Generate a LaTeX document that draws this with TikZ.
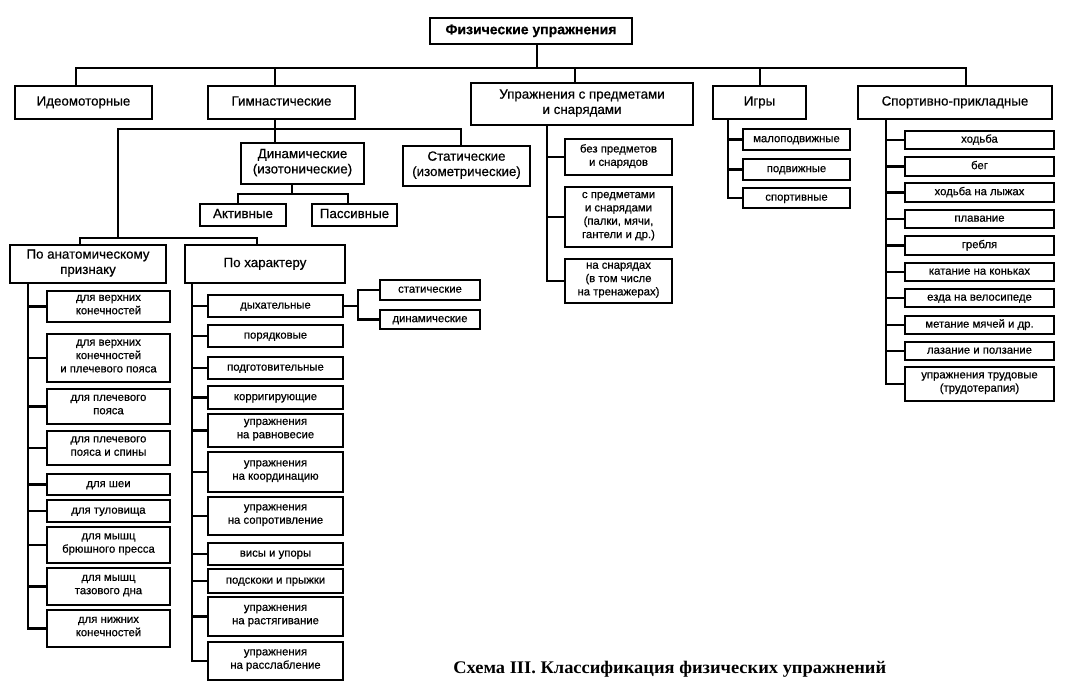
\documentclass[tikz,border=0pt]{standalone}
\usepackage{fontspec}
\setmainfont{Liberation Sans}[FakeBold=0.6]
\newfontfamily\capfont{Liberation Serif}[FakeStretch=1.04]
\tikzset{
  box/.style={draw, line width=2pt, inner sep=0pt, align=center, font=\fontsize{10}{11.5}\selectfont,
    execute at begin node=\strut, execute at end node=\strut},
  sm/.style={box, font=\fontsize{8.5}{10}\selectfont},
  ttl/.style={box, font=\bfseries\fontsize{10.5}{12}\selectfont},
  ln/.style={line width=2pt, line join=miter},
}
\newcommand\bx[7]{\node[#7, minimum width={(#4-#2)*0.75pt}, minimum height={(#5-#3)*0.75pt}] (#1) at ({(#2+#4)/2},{(#3+#5)/2}) {#6};}
\begin{document}
\begin{tikzpicture}[x=0.75pt,y=-0.75pt]
\useasboundingbox (0,0) rectangle (1086,697);
% level 0 and 1
\bx{title}{430}{18}{632}{44}{Физические упражнения}{ttl}
\bx{ideo}{15}{86}{152}{119}{Идеомоторные}{box}
\bx{gym}{208}{86}{355}{119}{Гимнастические}{box}
\bx{upr}{471}{83}{693}{125}{Упражнения с предметами\\и снарядами}{box}
\bx{igry}{713}{86}{806}{119}{Игры}{box}
\bx{sport}{858}{86}{1052}{119}{Спортивно-прикладные}{box}
% gymnastics subtree
\bx{dyn}{241}{143}{364}{184}{Динамические\\(изотонические)}{box}
\bx{stat}{403}{146}{530}{186}{Статические\\(изометрические)}{box}
\bx{akt}{200}{204}{286}{226}{Активные}{box}
\bx{pas}{312}{204}{397}{226}{Пассивные}{box}
\bx{anat}{10}{245}{166}{283}{По анатомическому\\признаку}{box}
\bx{char}{185}{245}{345}{283}{По характеру}{box}
% anatomical
\bx{a1}{47}{291}{170}{322}{для верхних\\конечностей}{sm}
\bx{a2}{47}{334}{170}{382}{для верхних\\конечностей\\и плечевого пояса}{sm}
\bx{a3}{47}{389}{170}{424}{для плечевого\\пояса}{sm}
\bx{a4}{47}{431}{170}{465}{для плечевого\\пояса и спины}{sm}
\bx{a5}{47}{474}{170}{495}{для шеи}{sm}
\bx{a6}{47}{500}{170}{522}{для туловища}{sm}
\bx{a7}{47}{527}{170}{563}{для мышц\\брюшного пресса}{sm}
\bx{a8}{47}{568}{170}{605}{для мышц\\тазового дна}{sm}
\bx{a9}{47}{610}{170}{647}{для нижних\\конечностей}{sm}
% character
\bx{c1}{208}{295}{343}{317}{дыхательные}{sm}
\bx{c2}{208}{325}{343}{347}{порядковые}{sm}
\bx{c3}{208}{357}{343}{379}{подготовительные}{sm}
\bx{c4}{208}{386}{343}{409}{корригирующие}{sm}
\bx{c5}{208}{414}{343}{447}{упражнения\\на равновесие}{sm}
\bx{c6}{208}{452}{343}{492}{упражнения\\на координацию}{sm}
\bx{c7}{208}{497}{343}{535}{упражнения\\на сопротивление}{sm}
\bx{c8}{208}{543}{343}{565}{висы и упоры}{sm}
\bx{c9}{208}{569}{343}{593}{подскоки и прыжки}{sm}
\bx{c10}{208}{597}{343}{636}{упражнения\\на растягивание}{sm}
\bx{c11}{208}{642}{343}{680}{упражнения\\на расслабление}{sm}
\bx{s1}{380}{280}{480}{300}{статические}{sm}
\bx{s2}{380}{310}{480}{329}{динамические}{sm}
% with apparatus
\bx{u1}{565}{139}{672}{175}{без предметов\\и снарядов}{sm}
\bx{u2}{565}{187}{672}{247}{с предметами\\и снарядами\\(палки, мячи,\\гантели и др.)}{sm}
\bx{u3}{565}{259}{672}{303}{на снарядах\\(в том числе\\на тренажерах)}{sm}
% games
\bx{g1}{743}{129}{850}{150}{малоподвижные}{sm}
\bx{g2}{743}{159}{850}{180}{подвижные}{sm}
\bx{g3}{743}{188}{850}{208}{спортивные}{sm}
% sport-applied
\bx{p1}{905}{131}{1054}{149}{ходьба}{sm}
\bx{p2}{905}{157}{1054}{176}{бег}{sm}
\bx{p3}{905}{183}{1054}{202}{ходьба на лыжах}{sm}
\bx{p4}{905}{210}{1054}{228}{плавание}{sm}
\bx{p5}{905}{236}{1054}{255}{гребля}{sm}
\bx{p6}{905}{263}{1054}{281}{катание на коньках}{sm}
\bx{p7}{905}{289}{1054}{307}{езда на велосипеде}{sm}
\bx{p8}{905}{316}{1054}{334}{метание мячей и др.}{sm}
\bx{p9}{905}{342}{1054}{360}{лазание и ползание}{sm}
\bx{p10}{905}{367}{1054}{401}{упражнения трудовые\\(трудотерапия)}{sm}
% caption
\node[anchor=west, inner sep=0pt, font=\capfont\bfseries\fontsize{13.3}{15}\selectfont] (cap) at (453,669) {Схема III. Классификация физических упражнений};
% ---- connectors ----
\coordinate (j0) at (537,68);
\coordinate (bL) at (76,68);
\coordinate (bR) at (966,68);
\coordinate (d2) at (275,68);
\coordinate (d3) at (575,68);
\coordinate (d4) at (760,68);
\draw[ln] (title.south -| j0) -- (j0);
\draw[ln] (ideo.north -| bL) -- (bL) -- (bR) -- (sport.north -| bR);
\draw[ln] (gym.north -| d2) -- (d2);
\draw[ln] (upr.north -| d3) -- (d3);
\draw[ln] (igry.north -| d4) -- (d4);
% gymnastics
\coordinate (gL) at (118,129);
\coordinate (gR) at (461,129);
\coordinate (hL) at (80,238);
\coordinate (hR) at (257,238);
\draw[ln] (gym.south -| d2) -- (dyn.north -| d2);
\draw[ln] (gL |- hL) -- (gL) -- (gR) -- (stat.north -| gR);
\draw[ln] (anat.north -| hL) -- (hL) -- (hR) -- (char.north -| hR);
\coordinate (k0) at (292,194);
\coordinate (kL) at (238,194);
\coordinate (kR) at (348,194);
\draw[ln] (dyn.south -| k0) -- (k0);
\draw[ln] (akt.north -| kL) -- (kL) -- (kR) -- (pas.north -| kR);
% anatomical trunk
\coordinate (av) at (28,0);
\draw[ln] (anat.south -| av) -- (a9.west -| av) -- (a9.west);
\foreach \i in {1,...,8} \draw[ln] (a\i.west -| av) -- (a\i.west);
% character trunk
\coordinate (cv) at (192,0);
\draw[ln] (char.south -| cv) -- (c11.west -| cv) -- (c11.west);
\foreach \i in {1,...,10} \draw[ln] (c\i.west -| cv) -- (c\i.west);
\coordinate (dj) at (358,0);
\draw[ln] (c1.east) -- (c1.east -| dj);
\draw[ln] (s1.west) -- (s1.west -| dj) -- (s2.west -| dj) -- (s2.west);
% apparatus trunk
\coordinate (uv) at (547,0);
\draw[ln] (upr.south -| uv) -- (u3.west -| uv) -- (u3.west);
\foreach \i in {1,2} \draw[ln] (u\i.west -| uv) -- (u\i.west);
% games trunk
\coordinate (iv) at (728,0);
\draw[ln] (igry.south -| iv) -- (g3.west -| iv) -- (g3.west);
\foreach \i in {1,2} \draw[ln] (g\i.west -| iv) -- (g\i.west);
% sport trunk
\coordinate (sv) at (886,0);
\draw[ln] (sport.south -| sv) -- (p10.west -| sv) -- (p10.west);
\foreach \i in {1,...,9} \draw[ln] (p\i.west -| sv) -- (p\i.west);
\end{tikzpicture}
\end{document}
